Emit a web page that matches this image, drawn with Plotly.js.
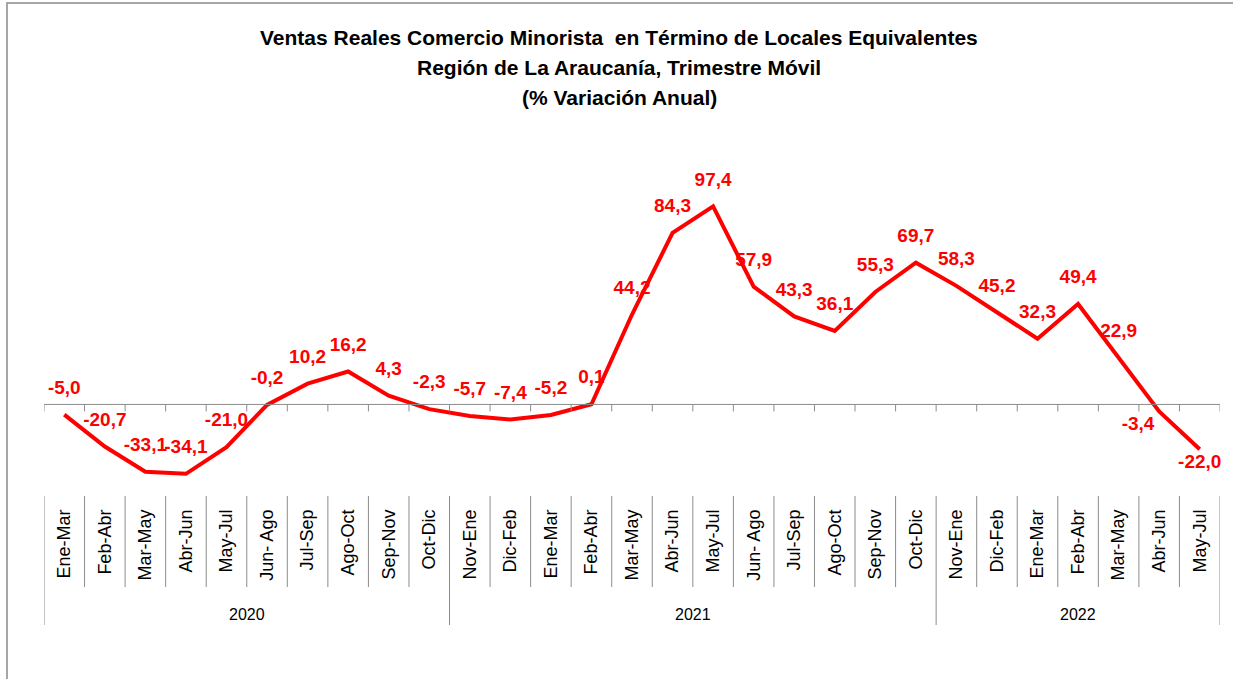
<!DOCTYPE html>
<html>
<head>
<meta charset="utf-8">
<script src="https://cdn.plot.ly/plotly-3.0.1.min.js"></script>
<style>html,body{margin:0;padding:0;background:#fff;}#chart{width:1233px;height:679px;}</style>
</head>
<body>
<div id="chart"></div>
<script>
// ---- data ----
const years = ["2020","2020","2020","2020","2020","2020","2020","2020","2020","2020",
  "2021","2021","2021","2021","2021","2021","2021","2021","2021","2021","2021","2021",
  "2022","2022","2022","2022","2022","2022","2022"];
const periods = ["Ene-Mar","Feb-Abr","Mar-May","Abr-Jun","May-Jul","Jun- Ago","Jul-Sep","Ago-Oct","Sep-Nov","Oct-Dic",
  "Nov-Ene","Dic-Feb","Ene-Mar","Feb-Abr","Mar-May","Abr-Jun","May-Jul","Jun- Ago","Jul-Sep","Ago-Oct","Sep-Nov","Oct-Dic",
  "Nov-Ene","Dic-Feb","Ene-Mar","Feb-Abr","Mar-May","Abr-Jun","May-Jul"];
const values = [-5.0,-20.7,-33.1,-34.1,-21.0,-0.2,10.2,16.2,4.3,-2.3,
  -5.7,-7.4,-5.2,0.1,44.2,84.3,97.4,57.9,43.3,36.1,55.3,69.7,
  58.3,45.2,32.3,49.4,22.9,-3.4,-22.0];
const titleLines = ["Ventas Reales Comercio Minorista  en Término de Locales Equivalentes",
  "Región de La Araucanía, Trimestre Móvil",
  "(% Variación Anual)"];

// ---- layout constants (pixels) ----
const W = 1233, H = 679;
const mL = 44, mR = 13, mT = 201, mB = 183;
const plotW = W - mL - mR, plotH = H - mT - mB;
const yMin = -45, yMax = 100;
const pxPerUnit = plotH / (yMax - yMin);
const paperY = py => (H - mB - py) / plotH;
const paperX = px => (px - mL) / plotW;

const idx = periods.map((_, i) => i);
const labels = values.map(v => v.toFixed(1).replace('.', ','));
const n = values.length;
// label placement: above, except last two which sit below
const textPos = values.map((v, i) => i === n - 2 ? 'bottom left' : (i === n - 1 ? 'bottom center' : 'top center'));
const mSize = values.map((v, i) => i >= n - 2 ? 6 : 24);

const trace = {
  x: idx, y: values, type: 'scatter', mode: 'lines+markers+text',
  line: {color: '#FF0000', width: 4},
  marker: {size: mSize, color: 'rgba(0,0,0,0)', line: {width: 0, color: 'rgba(0,0,0,0)'}},
  text: labels, textposition: textPos,
  textfont: {family: 'Liberation Sans, Arial, sans-serif', size: 19, color: '#FF0000', weight: 'bold'},
  cliponaxis: false, hoverinfo: 'skip', showlegend: false
};

const shapes = [];
const gray = '#8C8C8C';
// zero axis line
shapes.push({type: 'line', xref: 'x', yref: 'y', x0: -0.5, x1: n - 0.5, y0: 0, y1: 0, line: {color: gray, width: 1}});
// group boundaries
const groupStarts = [];
years.forEach((y, i) => { if (i === 0 || years[i - 1] !== y) groupStarts.push(i); });
for (let i = 0; i <= n; i++) {
  const b = i - 0.5;
  // tick marks on zero line
  shapes.push({type: 'line', xref: 'x', yref: 'y', x0: b, x1: b, y0: 0, y1: -7 / pxPerUnit, line: {color: gray, width: 1}});
  const isGroup = groupStarts.includes(i) || i === n;
  shapes.push({type: 'line', xref: 'x', yref: 'paper', x0: b, x1: b, y0: 0,
    y1: isGroup ? paperY(625) : paperY(587), line: {color: gray, width: 1}});
}
// chart frame
shapes.push({type: 'rect', xref: 'paper', yref: 'paper', x0: paperX(7), x1: paperX(1245), y0: paperY(3), y1: paperY(700),
  line: {color: '#A6A6A6', width: 2}});

const annotations = [];
const tY = [37, 67, 97];
titleLines.forEach((t, i) => annotations.push({
  text: t, xref: 'paper', yref: 'paper', x: paperX(619), y: paperY(tY[i]), xanchor: 'center', yanchor: 'middle',
  showarrow: false, font: {family: 'Liberation Sans, Arial, sans-serif', size: 21, color: '#000', weight: 'bold'}
}));
const groupEnds = groupStarts.slice(1).map(s => s - 1).concat([n - 1]);
groupStarts.forEach((s, g) => annotations.push({
  text: years[s], xref: 'x', yref: 'paper', x: (s + groupEnds[g]) / 2, y: paperY(614),
  xanchor: 'center', yanchor: 'middle', showarrow: false,
  font: {family: 'Liberation Sans, Arial, sans-serif', size: 16, color: '#000'}
}));

const layout = {
  width: W, height: H,
  margin: {l: mL, r: mR, t: mT, b: mB, pad: 0},
  paper_bgcolor: '#fff', plot_bgcolor: '#fff',
  xaxis: {range: [-0.5, n - 0.5], tickmode: 'array', tickvals: idx, ticktext: periods, tickangle: -90,
    showgrid: false, zeroline: false, showline: false, ticks: '', ticklabelstandoff: 9,
    tickfont: {family: 'Liberation Sans, Arial, sans-serif', size: 18, color: '#000'}, fixedrange: true},
  yaxis: {range: [yMin, yMax], visible: false, showgrid: false, zeroline: false, fixedrange: true},
  shapes: shapes, annotations: annotations, showlegend: false
};

Plotly.newPlot('chart', [trace], layout, {displayModeBar: false, staticPlot: true});
</script>
</body>
</html>
